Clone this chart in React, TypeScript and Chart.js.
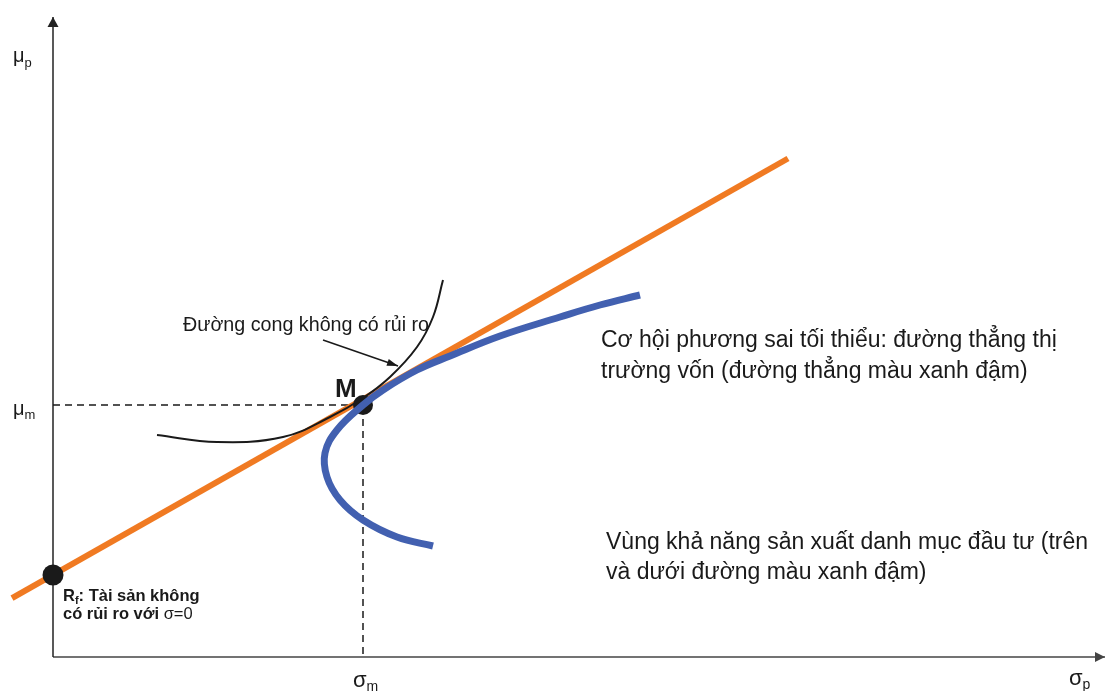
import React, { useEffect, useRef } from "react";
import { Chart, registerables } from "chart.js";

Chart.register(...registerables);

// Axis ranges (σ on x, μ on y); origin sits at the lower-left axis corner
const SIGMA_RANGE = [-0.53, 10.53];
const MU_RANGE = [-0.34, 6.57];

// Axis extents (arrow tips)
const SIGMA_AXIS_END = 10.52;
const MU_AXIS_END = 6.4;

// Capital market line (Rf → beyond M)
const cmlSigma = [-0.41, 7.35];
const cmlMu = [0.588, 4.985];

// Risk-free asset and market portfolio
const riskFree = { sigma: 0, mu: 0.82 };
const market = { sigma: 3.1, mu: 2.52 };

// Efficient frontier / investment opportunity boundary
const frontierSigma = [5.87, 5.47, 5.07, 4.47, 3.97, 3.64, 3.3, 3.1, 2.84, 2.72, 2.74, 2.87, 3.1, 3.44, 3.8];
const frontierMu = [3.62, 3.52, 3.4, 3.21, 3.01, 2.87, 2.67, 2.52, 2.27, 2.04, 1.8, 1.57, 1.37, 1.2, 1.11];

// Indifference curve touching M
const indiffSigma = [1.04, 1.64, 2.3, 2.77, 3.1, 3.37, 3.64, 3.8, 3.9];
const indiffMu = [2.22, 2.15, 2.2, 2.4, 2.59, 2.8, 3.1, 3.4, 3.77];

// Pointer from the curve label to the curve
const pointerSigma = [2.7, 3.45];
const pointerMu = [3.17, 2.91];

const FONT = "'Liberation Sans', Arial, Helvetica, sans-serif";

type Seg = { t: string; size: number; weight?: string; dy?: number };
type Label = { sigma: number; mu: number; lineHeight?: number; lines: Seg[][] };

const labels: Label[] = [
  { sigma: -0.4, mu: 5.95, lines: [[{ t: "μ", size: 20 }, { t: "p", size: 13, dy: 5 }]] },
  { sigma: -0.4, mu: 2.42, lines: [[{ t: "μ", size: 20 }, { t: "m", size: 13, dy: 4 }]] },
  { sigma: 3.0, mu: -0.3, lines: [[{ t: "σ", size: 22 }, { t: "m", size: 14, dy: 4 }]] },
  { sigma: 10.16, mu: -0.28, lines: [[{ t: "σ", size: 22 }, { t: "p", size: 14, dy: 4 }]] },
  { sigma: 1.3, mu: 3.26, lines: [[{ t: "Đường cong không có rủi ro", size: 19.7 }]] },
  { sigma: 2.82, mu: 2.6, lines: [[{ t: "M", size: 26, weight: "bold" }]] },
  {
    sigma: 5.48,
    mu: 3.1,
    lineHeight: 31,
    lines: [
      [{ t: "Cơ hội phương sai tối thiểu: đường thẳng thị", size: 23 }],
      [{ t: "trường vốn (đường thẳng màu xanh đậm)", size: 23 }],
    ],
  },
  {
    sigma: 5.53,
    mu: 1.08,
    lineHeight: 30,
    lines: [
      [{ t: "Vùng khả năng sản xuất danh mục đầu tư (trên", size: 23 }],
      [{ t: "và dưới đường màu xanh đậm)", size: 23 }],
    ],
  },
  {
    sigma: 0.1,
    mu: 0.56,
    lineHeight: 18,
    lines: [
      [
        { t: "R", size: 16.5, weight: "bold" },
        { t: "f", size: 11, weight: "bold", dy: 3 },
        { t: ": Tài sản không", size: 16.5, weight: "bold" },
      ],
      [
        { t: "có rủi ro với ", size: 16.5, weight: "bold" },
        { t: "σ=0", size: 16.5 },
      ],
    ],
  },
];

const toPts = (xs: number[], ys: number[]) => xs.map((x, i) => ({ x, y: ys[i] }));

// Filled arrowheads at the last point of datasets flagged with `arrowHead`
const arrowPlugin = {
  id: "arrowHeads",
  afterDatasetsDraw(chart: any) {
    const { ctx } = chart;
    chart.data.datasets.forEach((ds: any, i: number) => {
      if (!ds.arrowHead) return;
      const meta = chart.getDatasetMeta(i);
      const pts = meta.data;
      const a = pts[pts.length - 2];
      const b = pts[pts.length - 1];
      const ang = Math.atan2(b.y - a.y, b.x - a.x);
      const { length, width } = ds.arrowHead;
      ctx.save();
      ctx.translate(b.x, b.y);
      ctx.rotate(ang);
      ctx.beginPath();
      ctx.moveTo(0, 0);
      ctx.lineTo(-length, width / 2);
      ctx.lineTo(-length, -width / 2);
      ctx.closePath();
      ctx.fillStyle = ds.borderColor;
      ctx.fill();
      ctx.restore();
    });
  },
};

// Text annotations anchored in data coordinates (left / baseline)
const labelPlugin = {
  id: "labels",
  afterDraw(chart: any) {
    const { ctx, scales } = chart;
    ctx.save();
    ctx.fillStyle = "#1a1a1a";
    ctx.textBaseline = "alphabetic";
    ctx.textAlign = "left";
    labels.forEach((lab) => {
      const x0 = scales.x.getPixelForValue(lab.sigma);
      let y = scales.y.getPixelForValue(lab.mu);
      lab.lines.forEach((line) => {
        let x = x0;
        line.forEach((seg) => {
          ctx.font = `${seg.weight || "normal"} ${seg.size}px ${FONT}`;
          ctx.fillText(seg.t, x, y + (seg.dy || 0));
          x += ctx.measureText(seg.t).width;
        });
        y += lab.lineHeight || 0;
      });
    });
    ctx.restore();
  },
};

export default function App() {
  const canvasRef = useRef<HTMLCanvasElement | null>(null);

  useEffect(() => {
    const canvas = canvasRef.current;
    if (!canvas) return;
    const black = "#1a1a1a";
    const chart = new Chart(canvas, {
      type: "scatter",
      data: {
        datasets: [
          {
            // pointer arrow
            data: toPts(pointerSigma, pointerMu),
            showLine: true,
            borderColor: black,
            borderWidth: 1.5,
            pointRadius: 0,
            order: 1,
            arrowHead: { length: 11, width: 7 },
          } as any,
          {
            // efficient frontier
            data: toPts(frontierSigma, frontierMu),
            showLine: true,
            borderColor: "#4260b0",
            borderWidth: 7,
            tension: 0.4,
            borderJoinStyle: "round",
            pointRadius: 0,
            order: 2,
          },
          {
            // market portfolio M
            data: [{ x: market.sigma, y: market.mu }],
            pointRadius: 10,
            pointBackgroundColor: black,
            pointBorderWidth: 0,
            order: 3,
          },
          {
            // indifference curve
            data: toPts(indiffSigma, indiffMu),
            showLine: true,
            borderColor: black,
            borderWidth: 2,
            tension: 0.4,
            pointRadius: 0,
            order: 4,
          },
          {
            // risk-free asset
            data: [{ x: riskFree.sigma, y: riskFree.mu }],
            pointRadius: 10.5,
            pointBackgroundColor: black,
            pointBorderWidth: 0,
            order: 5,
          },
          {
            // capital market line
            data: toPts(cmlSigma, cmlMu),
            showLine: true,
            borderColor: "#f07a22",
            borderWidth: 6,
            pointRadius: 0,
            order: 6,
          },
          {
            // dashed guides to μm and σm
            data: [
              { x: 0, y: market.mu },
              { x: market.sigma, y: market.mu },
              { x: market.sigma, y: 0 },
            ],
            showLine: true,
            borderColor: black,
            borderWidth: 1.5,
            borderDash: [7, 5],
            pointRadius: 0,
            order: 7,
          },
          {
            // μ axis
            data: [
              { x: 0, y: 0 },
              { x: 0, y: MU_AXIS_END },
            ],
            showLine: true,
            borderColor: "#222222",
            borderWidth: 1.5,
            pointRadius: 0,
            order: 8,
            arrowHead: { length: 10, width: 11 },
          } as any,
          {
            // σ axis
            data: [
              { x: 0, y: 0 },
              { x: SIGMA_AXIS_END, y: 0 },
            ],
            showLine: true,
            borderColor: "#444444",
            borderWidth: 1.5,
            pointRadius: 0,
            order: 8,
            arrowHead: { length: 10, width: 10 },
          } as any,
        ],
      },
      options: {
        animation: false,
        responsive: true,
        maintainAspectRatio: false,
        layout: { padding: 0, autoPadding: false },
        events: [],
        scales: {
          x: { type: "linear", min: SIGMA_RANGE[0], max: SIGMA_RANGE[1], display: false },
          y: { type: "linear", min: MU_RANGE[0], max: MU_RANGE[1], display: false },
        },
        plugins: {
          legend: { display: false },
          tooltip: { enabled: false },
        },
      },
      plugins: [arrowPlugin, labelPlugin],
    });
    return () => chart.destroy();
  }, []);

  return (
    <div style={{ position: "absolute", left: 0, top: 0, width: 1106, height: 691, background: "#ffffff" }}>
      <canvas ref={canvasRef} />
    </div>
  );
}
